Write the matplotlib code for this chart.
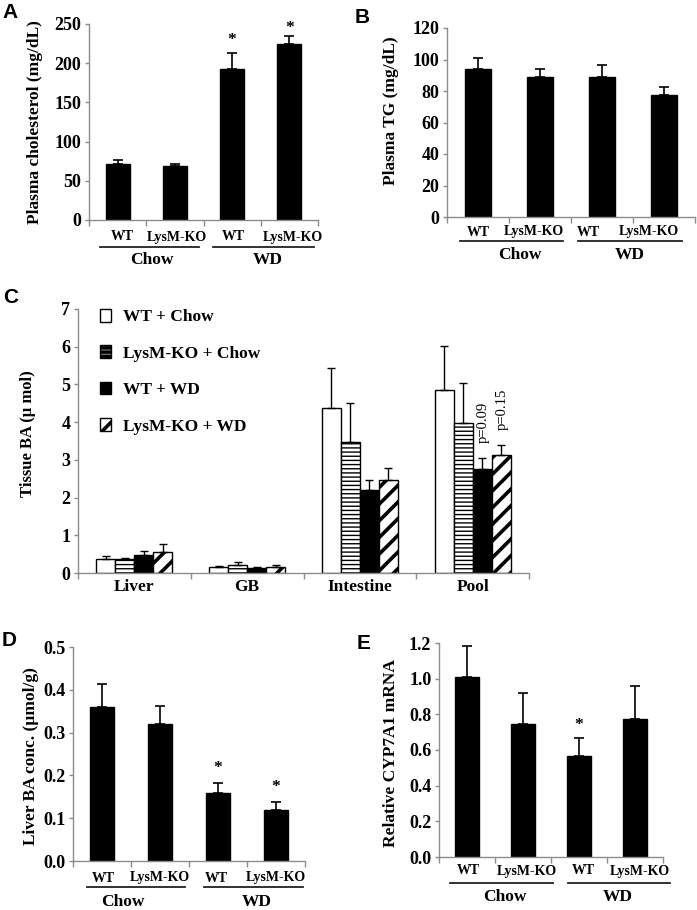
import numpy as np
import matplotlib
matplotlib.use('Agg')
import matplotlib.pyplot as plt
from matplotlib import transforms

plt.rcParams['font.family'] = ['Liberation Serif', 'DejaVu Serif']
plt.rcParams['font.weight'] = 'bold'
plt.rcParams['axes.labelweight'] = 'bold'

# ---- data ----
genotypes = ['WT', 'LysM-KO', 'WT', 'LysM-KO']
diets = ['Chow', 'WD']

chol_mean = [72, 68.5, 192, 225]
chol_err = [4, 3, 21, 9.5]

tg_mean = [94, 89, 89, 77.3]
tg_err = [6.8, 4.7, 7.4, 5.5]

tissues = ['Liver', 'GB', 'Intestine', 'Pool']
ba_groups = ['WT + Chow', 'LysM-KO + Chow', 'WT + WD', 'LysM-KO + WD']
ba_wt_chow = [0.37, 0.16, 4.38, 4.86]
ba_wt_chow_err = [0.07, 0.03, 1.06, 1.15]
ba_ko_chow = [0.37, 0.21, 3.47, 3.98]
ba_ko_chow_err = [0.04, 0.07, 1.05, 1.05]
ba_wt_wd = [0.48, 0.13, 2.19, 2.77]
ba_wt_wd_err = [0.10, 0.04, 0.28, 0.27]
ba_ko_wd = [0.56, 0.17, 2.47, 3.13]
ba_ko_wd_err = [0.20, 0.04, 0.31, 0.26]
pool_pvals = ['p=0.09', 'p=0.15']

liver_ba = [0.36, 0.32, 0.16, 0.12]
liver_ba_err = [0.053, 0.043, 0.023, 0.019]

cyp_mean = [1.01, 0.744, 0.568, 0.772]
cyp_err = [0.173, 0.178, 0.098, 0.188]

W, H = 697, 910
fig = plt.figure(figsize=(W / 100, H / 100), dpi=100)
GRAY = '#8c8c8c'


def make_ax(l, t, r, b):
    ax = fig.add_axes([l / W, 1 - b / H, (r - l) / W, (b - t) / H])
    for s in ['top', 'right']:
        ax.spines[s].set_visible(False)
    for s in ['left', 'bottom']:
        ax.spines[s].set_color(GRAY)
        ax.spines[s].set_linewidth(1.0)
    ax.tick_params(axis='y', length=3, width=1, color=GRAY, labelsize=13, pad=2.5)
    ax.tick_params(axis='x', which='major', length=0)
    ax.tick_params(axis='x', which='minor', length=4, width=1, color=GRAY)
    ax.set_xlim(-0.5, 3.5)
    ax.set_xticks(np.arange(-0.5, 4, 1), minor=True)
    return ax


def bold_ticks(ax):
    for t in ax.get_yticklabels() + ax.get_xticklabels():
        t.set_fontweight('bold')


def simple_panel(ax, means, errs, ymax, yticks, fmt, ylabel, lab_xy, stars, star_off):
    x = np.arange(len(means))
    ax.bar(x, means, width=0.42, color='black', edgecolor='black',
           yerr=[np.zeros(len(errs)), errs], ecolor='black',
           error_kw=dict(capsize=3.5, elinewidth=1.2, capthick=1.2))
    ax.set_ylim(0, ymax)
    ax.set_yticks(yticks)
    ax.set_yticklabels([fmt.format(v) for v in yticks])
    ax.set_xticks([])
    bold_ticks(ax)
    ax.set_ylabel(ylabel, fontsize=12.5, fontweight='bold', va='center')
    ax.yaxis.set_label_coords(*lab_xy['ylab'])
    trans = transforms.blended_transform_factory(ax.transData, ax.transAxes)
    for xi, name in zip(lab_xy['geno_x'], genotypes):
        ax.annotate(name, xy=(xi, 0), xycoords=trans, xytext=(0, -lab_xy['dy'][0]),
                    textcoords='offset pixels', ha='center', va='center',
                    fontsize=10, fontweight='bold')
    for (x0, x1) in lab_xy['lines']:
        ax.plot([x0, x1], [0, 0], color='#222222', lw=1.3, clip_on=False,
                transform=transforms.offset_copy(trans, fig=fig, y=-lab_xy['dy'][1], units='dots'))
    for xi, name in zip(lab_xy['diet_x'], diets):
        ax.annotate(name, xy=(xi, 0), xycoords=trans, xytext=(0, -lab_xy['dy'][2]),
                    textcoords='offset pixels', ha='center', va='center',
                    fontsize=12.5, fontweight='bold')
    for i, off in zip(stars, star_off):
        ax.annotate('*', xy=(i, means[i] + errs[i]), xytext=(0, off),
                    textcoords='offset pixels', ha='center', va='baseline',
                    fontsize=12.5, fontweight='bold')


# ---- A ----
axA = make_ax(89, 24, 318, 220)
simple_panel(axA, chol_mean, chol_err, 250, [0, 50, 100, 150, 200, 250], '{:.0f}',
             'Plasma cholesterol (mg/dL)',
             dict(ylab=(-0.235, 0.5), geno_x=[0.08, 1.04, 2.03, 3.06],
                  lines=[(-0.31, 1.43), (1.67, 3.43)], diet_x=[0.6, 2.62], dy=(17, 27, 40)),
             [2, 3], [9, 4])

# ---- B ----
axB = make_ax(447, 28, 695, 217)
simple_panel(axB, tg_mean, tg_err, 120, [0, 20, 40, 60, 80, 100, 120], '{:.0f}',
             'Plasma TG (mg/dL)',
             dict(ylab=(-0.225, 0.56), geno_x=[0.0, 0.9, 1.78, 2.76],
                  lines=[(-0.29, 1.37), (1.61, 3.29)], diet_x=[0.68, 2.45], dy=(15, 24, 38)),
             [], [])

# ---- D ----
axD = make_ax(73, 647, 305, 861)
simple_panel(axD, liver_ba, liver_ba_err, 0.5, [0.0, 0.1, 0.2, 0.3, 0.4, 0.5], '{:.1f}',
             'Liver BA conc. (µmol/g)',
             dict(ylab=(-0.18, 0.49), geno_x=[0.02, 1.0, 1.98, 3.0],
                  lines=[(-0.26, 1.43), (1.76, 3.47)], diet_x=[0.36, 2.67], dy=(17, 26, 41)),
             [2, 3], [11, 11])

# ---- E ----
axE = make_ax(439, 643, 663, 857)
simple_panel(axE, cyp_mean, cyp_err, 1.2, [0.0, 0.2, 0.4, 0.6, 0.8, 1.0, 1.2], '{:.1f}',
             'Relative CYP7A1 mRNA',
             dict(ylab=(-0.215, 0.486), geno_x=[0.02, 1.07, 2.07, 3.09],
                  lines=[(-0.30, 1.54), (1.80, 3.62)], diet_x=[0.68, 2.70], dy=(14, 26, 40)),
             [2], [9])

# ---- C ----
axC = make_ax(78, 309, 529, 573)
x = np.arange(len(tissues))
bw = 0.168
series = [(ba_wt_chow, ba_wt_chow_err, 'white', '', 1.0),
          (ba_ko_chow, ba_ko_chow_err, 'white', '----', 1.0),
          (ba_wt_wd, ba_wt_wd_err, 'black', '', 1.0),
          (ba_ko_wd, ba_ko_wd_err, 'white', '//', 2.6)]
handles = []
for k, (vals, errs, fc, hatch, hlw) in enumerate(series):
    plt.rcParams['hatch.linewidth'] = hlw
    bc = axC.bar(x + (k - 1.5) * bw, vals, width=bw, color=fc, edgecolor='black',
                 linewidth=1.0, hatch=hatch, label=ba_groups[k],
                 yerr=[np.zeros(len(errs)), errs], ecolor='black',
                 error_kw=dict(capsize=3, elinewidth=1.0, capthick=1.0))
    handles.append(bc)
axC.set_ylim(0, 7)
axC.set_yticks(range(8))
axC.set_xticks(x)
axC.set_xticklabels(tissues, fontsize=12.5)
bold_ticks(axC)
axC.tick_params(axis='x', which='major', pad=4)
axC.set_ylabel('Tissue BA (µ mol)', fontsize=12, fontweight='bold', va='center')
axC.yaxis.set_label_coords(-0.11, 0.527)
axC.legend(handles=handles, loc='upper left', bbox_to_anchor=(0.049, 1.0),
           frameon=False, prop=dict(size=12.5, weight='bold'),
           handlelength=0.6, handleheight=0.75,
           handletextpad=0.7, labelspacing=1.15, borderpad=0, borderaxespad=0)
for k, txt in zip([2, 3], pool_pvals):
    series_vals, series_errs = series[k][0], series[k][1]
    axC.annotate(txt, xy=(3 + (k - 1.5) * bw, series_vals[3] + series_errs[3]),
                 xytext=(1, 15), textcoords='offset pixels', rotation=90,
                 ha='center', va='bottom', fontsize=10.5, fontweight='normal')

# panel letters
for lab, px, py in [('A', 2, 3), ('B', 355, 8), ('C', 3, 288), ('D', 2, 631), ('E', 357, 634)]:
    fig.text(px / W, 1 - py / H, lab, fontsize=15, fontweight='bold',
             family=['Liberation Sans', 'DejaVu Sans'], ha='left', va='top')

fig.savefig('out.png', dpi=100)
